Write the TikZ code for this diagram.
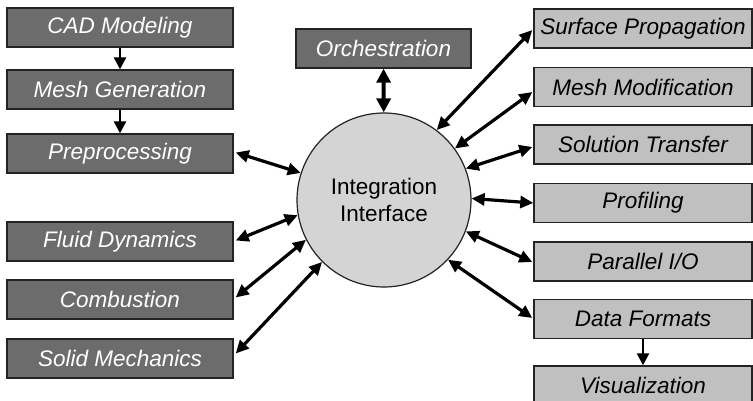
\documentclass[tikz,border=0pt]{standalone}
\usepackage{fontspec}
\setmainfont{Liberation Sans}
\usetikzlibrary{arrows.meta,calc}
\definecolor{darkbox}{RGB}{108,108,108}
\definecolor{lightbox}{RGB}{192,192,192}
\definecolor{hubfill}{RGB}{212,212,212}
\definecolor{edge}{RGB}{35,35,35}
\tikzset{
  box/.style={draw=edge, line width=1.4pt, minimum height=39pt, inner sep=0pt,
    font=\fontsize{22.5}{24}\selectfont\itshape},
  darkmod/.style={box, fill=darkbox, text=white, minimum width=226pt},
  lightmod/.style={box, fill=lightbox, text=black, minimum width=218pt},
  link/.style={line width=3.2pt, {Triangle[length=13pt,width=12pt]}-{Triangle[length=13pt,width=12pt]}},
  flow/.style={line width=2.4pt, -{Triangle[length=12pt,width=12pt]}},
}
\begin{document}
\begin{tikzpicture}[x=1pt,y=-1pt]
\useasboundingbox (0,0) rectangle (753,401);
\fill[white] (0,0) rectangle (753,401);

% left column: preprocessing chain and physics modules
\node[darkmod] (cad)   at (120,27.5)  {CAD Modeling};
\node[darkmod] (mesh)  at (120,89.5)  {Mesh Generation};
\node[darkmod] (pre)   at (120,153.5) {Preprocessing};
\node[darkmod] (fluid) at (120,241.5) {Fluid Dynamics};
\node[darkmod] (comb)  at (120,299.5) {Combustion};
\node[darkmod] (solid) at (120,358.5) {Solid Mechanics};

% top: orchestration
\node[darkmod, minimum width=175pt] (orch) at (383.5,48.5) {Orchestration};

% central hub
\node[circle, draw=edge, line width=1.2pt, fill=hubfill, minimum size=174pt, inner sep=0pt,
  align=center, font=\fontsize{22.5}{27}\selectfont] (hub) at (384,200)
  {Integration\\Interface};

% right column: service modules
\node[lightmod] (surf) at (643,28.5)  {Surface Propagation};
\node[lightmod] (mmod) at (643,87)    {Mesh Modification};
\node[lightmod] (sol)  at (643,144.5) {Solution Transfer};
\node[lightmod] (prof) at (643,203)   {Profiling};
\node[lightmod] (pio)  at (643,261.5) {Parallel I/O};
\node[lightmod] (data) at (643,319)   {Data Formats};
\node[lightmod] (vis)  at (643,385.5) {Visualization};

% one-way flows
\draw[flow] (cad) -- (mesh);
\draw[flow] (mesh) -- (pre);
\draw[flow] (data) -- (vis);

% two-way links to the hub
\draw[link, line width=4pt, {Triangle[length=14pt,width=14pt]}-{Triangle[length=14pt,width=14pt]}] (orch) -- (hub);
\draw[link] ($(pre.east)+(2,-1)$)   -- (hub.162);
\draw[link] ($(fluid.east)+(2,-1)$) -- (hub.190.5);
\draw[link] ($(comb.east)+(2,-2)$)  -- (hub.207.5);
\draw[link] ($(solid.east)+(2,-5)$) -- (hub.225.5);
\draw[link] (hub.53)   -- ($(surf.west)+(-1,1.5)$);
\draw[link] (hub.36)   -- ($(mmod.west)+(-1,5)$);
\draw[link] (hub.21.7) -- ($(sol.west)+(-1,2.5)$);
\draw[link] (hub.1.3)  -- (prof.west);
\draw[link] (hub.-21)  -- ($(pio.west)+(-1,0.5)$);
\draw[link] (hub.-43.5) -- ($(data.west)+(-1,-1)$);
\end{tikzpicture}
\end{document}
